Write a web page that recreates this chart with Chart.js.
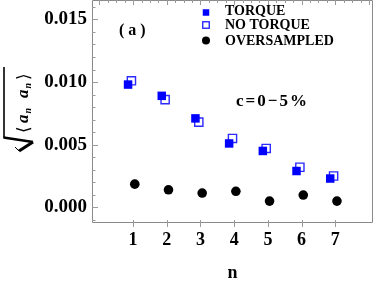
<!DOCTYPE html>
<html><head><meta charset="utf-8">
<script src="https://cdn.jsdelivr.net/npm/chart.js@4/dist/chart.umd.min.js"></script>
<style>html,body{margin:0;padding:0;background:#fff}#wrap{width:374px;height:285px;position:relative}</style>
</head><body><div id="wrap"><canvas id="c" width="374" height="285"></canvas></div>
<script>
// ---- data ----
const n = [1, 2, 3, 4, 5, 6, 7];
const torque      = [0.0098, 0.0089, 0.0071, 0.0051, 0.0045, 0.0029, 0.0023];
const noTorque    = [0.0101, 0.0086, 0.0068, 0.0055, 0.0047, 0.0032, 0.0025];
const oversampled = [0.00185, 0.0014, 0.00114, 0.00128, 0.0005, 0.00098, 0.0005];
const xTickLabels = ['1', '2', '3', '4', '5', '6', '7'];
const yTickLabels = ['0.000', '0.005', '0.010', '0.015'];
const seriesNames = ['TORQUE', 'NO TORQUE', 'OVERSAMPLED'];

const SERIF = '"Liberation Serif","Times New Roman",serif';
const FRAME = '#8a8a8a';

const decor = {
  id: 'decor',
  afterDraw(chart) {
    const ctx = chart.ctx, a = chart.chartArea;
    const xs = chart.scales.x, ys = chart.scales.y;
    ctx.save();
    // frame
    ctx.strokeStyle = FRAME; ctx.lineWidth = 1;
    ctx.beginPath();
    ctx.moveTo(a.left + 0.5, a.top + 0.5); ctx.lineTo(a.right - 0.5, a.top + 0.5);
    ctx.lineTo(a.right - 0.5, a.bottom - 0.5); ctx.lineTo(a.left + 0.5, a.bottom - 0.5);
    ctx.closePath(); ctx.stroke();
    // left ticks
    ctx.strokeStyle = '#9a9a9a';
    ctx.beginPath();
    for (let k = -1; k <= 16; k++) {
      const v = k * 0.001;
      const y = Math.round(ys.getPixelForValue(v)) + 0.5;
      if (y < a.top || y > a.bottom) continue;
      const len = (k % 5 === 0) ? 6 : 3.5;
      ctx.moveTo(a.left, y); ctx.lineTo(a.left + len, y);
    }
    // top ticks
    for (let k = 0; k <= 32; k++) {
      const v = k * 0.25;
      const x = Math.round(xs.getPixelForValue(v)) + 0.5;
      if (x < a.left || x > a.right) continue;
      const len = (k % 4 === 0) ? 5 : 3;
      ctx.moveTo(x, a.top); ctx.lineTo(x, a.top + len);
    }
    // bottom ticks at categories
    n.forEach(v => {
      const x = Math.round(xs.getPixelForValue(v)) + 0.5;
      ctx.moveTo(x, a.bottom - 3); ctx.lineTo(x, a.bottom + 4);
    });
    ctx.stroke();

    // x title
    ctx.fillStyle = '#000';
    ctx.font = 'bold 18px ' + SERIF;
    ctx.textAlign = 'center'; ctx.textBaseline = 'alphabetic';
    ctx.fillText('n', (a.left + a.right) / 2, 278);

    // (a)
    ctx.textAlign = 'left';
    ctx.font = 'bold 16px ' + SERIF;
    ctx.fillText('( a )', 119, 35);

    // c=0-5%
    ctx.font = 'bold 17px ' + SERIF;
    try { ctx.letterSpacing = '2px'; } catch (e) {}
    ctx.fillText('c=0\u22125%', 236, 106);
    try { ctx.letterSpacing = '0px'; } catch (e) {}

    // legend
    const ds = chart.data.datasets;
    const lx = 206, ly = [12.5, 25, 40.5], ty = [15, 29, 45];
    ctx.font = 'bold 14px ' + SERIF;
    seriesNames.forEach((name, i) => {
      const d = ds[i];
      ctx.save();
      ctx.fillStyle = d.backgroundColor; ctx.strokeStyle = d.borderColor;
      ctx.lineWidth = d.borderWidth || 1;
      if (d.pointStyle === 'rect') {
        const s = 6.5;
        if (i === 0) ctx.fillRect(lx - s / 2, ly[i] - s / 2, s, s);
        else ctx.strokeRect(lx - s / 2, ly[i] - s / 2, s, s);
      } else {
        ctx.beginPath(); ctx.arc(lx, ly[i], 4, 0, Math.PI * 2); ctx.fill();
      }
      ctx.restore();
      ctx.fillStyle = '#000';
      ctx.fillText(name, 225, ty[i]);
    });

    // y title: rotated radical with <a_n a_n>
    ctx.strokeStyle = '#000';
    ctx.lineCap = 'butt';
    ctx.lineWidth = 1.6;
    ctx.beginPath(); ctx.moveTo(4, 67); ctx.lineTo(4, 138); ctx.stroke();
    ctx.lineWidth = 2.6;
    ctx.beginPath(); ctx.moveTo(3.5, 137.5); ctx.lineTo(33, 142); ctx.stroke();
    ctx.lineWidth = 3.2;
    ctx.beginPath(); ctx.moveTo(33, 142); ctx.lineTo(19, 151); ctx.stroke();
    ctx.lineWidth = 1;
    ctx.beginPath(); ctx.moveTo(19, 151); ctx.lineTo(15, 147); ctx.stroke();

    ctx.save();
    ctx.translate(28, 102);
    ctx.rotate(-Math.PI / 2);
    ctx.fillStyle = '#000';
    ctx.textBaseline = 'alphabetic';
    ctx.textAlign = 'left';
    let x = -31;
    const part = (t, f, dy) => { ctx.font = f; ctx.fillText(t, x, dy); x += ctx.measureText(t).width; };
    part('\u27E8', '17px ' + SERIF, 1);
    x += 3;
    part('a', 'italic bold 17px ' + SERIF, 0);
    x += 1;
    part('n', 'italic bold 10px ' + SERIF, 3);
    x += 10;
    part('a', 'italic bold 17px ' + SERIF, 0);
    x += 1;
    part('n', 'italic bold 10px ' + SERIF, 3);
    x += 3;
    part('\u27E9', '17px ' + SERIF, 1);
    ctx.restore();

    ctx.restore();
  }
};

const fmtY = v => {
  const r = v / 0.005;
  if (Math.abs(r - Math.round(r)) > 1e-6) return '';
  const idx = Math.round(r);
  return yTickLabels[idx] !== undefined ? yTickLabels[idx] : '';
};
const fmtX = v => {
  const r = Math.round(v);
  if (Math.abs(v - r) > 1e-6) return '';
  const i = n.indexOf(r);
  return i >= 0 ? xTickLabels[i] : '';
};
const noPad = s => { s.paddingTop = 0; s.paddingBottom = 0; s.paddingLeft = 0; s.paddingRight = 0; };

new Chart(document.getElementById('c').getContext('2d'), {
  type: 'scatter',
  data: {
    datasets: [
      { label: seriesNames[0], data: n.map((v, i) => ({ x: v - 0.15, y: torque[i] })),
        pointStyle: 'rect', pointRadius: 6, backgroundColor: '#0000ff', borderColor: '#0000ff', borderWidth: 0, order: 0 },
      { label: seriesNames[1], data: n.map((v, i) => ({ x: v - 0.05, y: noTorque[i] })),
        pointStyle: 'rect', pointRadius: 5.8, backgroundColor: 'rgba(255,255,255,0)', borderColor: '#2b2bff', borderWidth: 1.4, order: 1 },
      { label: seriesNames[2], data: n.map((v, i) => ({ x: v + 0.05, y: oversampled[i] })),
        pointStyle: 'circle', pointRadius: 4.8, backgroundColor: '#000000', borderColor: '#000000', borderWidth: 0, order: 2 }
    ]
  },
  options: {
    responsive: false, animation: false, devicePixelRatio: 1,
    layout: { autoPadding: false, padding: { top: 0, right: 1, left: 0, bottom: 0 } },
    plugins: { legend: { display: false }, tooltip: { enabled: false } },
    scales: {
      x: {
        type: 'linear', min: -0.22, max: 8.12,
        afterFit: s => { s.height = 62; noPad(s); },
        grid: { display: false, drawTicks: false },
        border: { display: false },
        ticks: { stepSize: 1, autoSkip: false, maxRotation: 0, padding: 7, color: '#000',
                 font: { family: SERIF, size: 18, weight: 'bold' }, callback: fmtX }
      },
      y: {
        type: 'linear', min: -0.00125, max: 0.01655,
        afterFit: s => { s.width = 92; noPad(s); },
        grid: { display: false, drawTicks: false },
        border: { display: false },
        ticks: { stepSize: 0.001, autoSkip: false, padding: 5, color: '#000',
                 font: { family: SERIF, size: 19, weight: 'bold' }, callback: fmtY }
      }
    }
  },
  plugins: [decor]
});
</script>
</body></html>
